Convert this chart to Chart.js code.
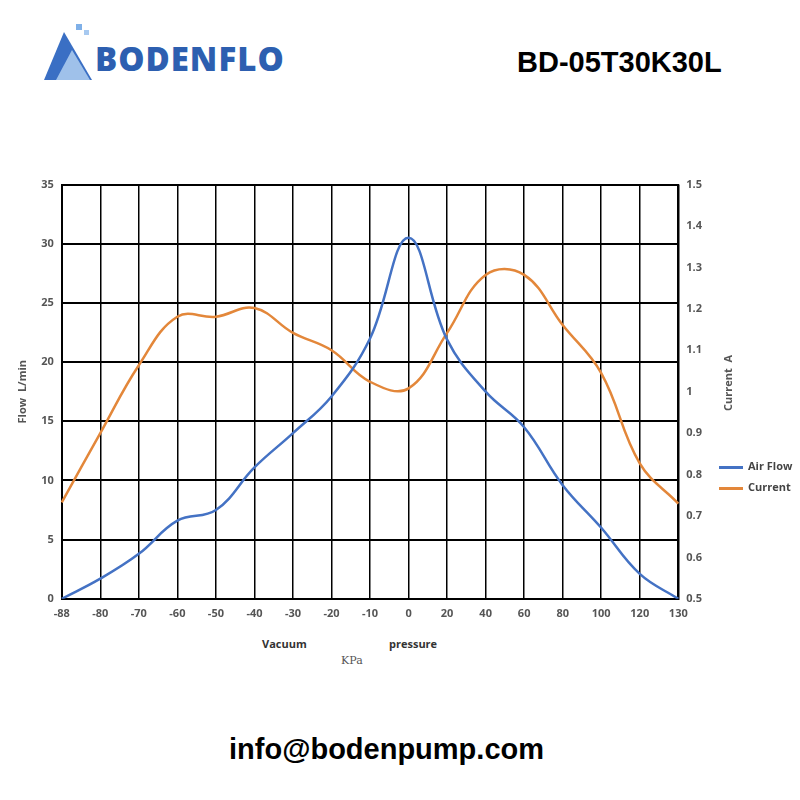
<!DOCTYPE html>
<html><head><meta charset="utf-8">
<script src="https://cdn.jsdelivr.net/npm/chart.js@4"></script>
<style>
body{margin:0;width:800px;height:800px;background:#fff;position:relative;font-family:"Open Sans",sans-serif;overflow:hidden}
#wrap{position:absolute;left:0;top:170px;width:800px;height:458px}
.t{position:absolute;white-space:nowrap}
</style></head><body>
<div class="t" style="left:36px;top:22px;width:56px;height:60px">
<svg width="60" height="62"><polygon points="8,58 28,10 56,58" fill="#3a6fc4"/><polygon points="20,58 36,28 54,58" fill="#9fc1ea"/><rect x="40" y="2" width="6" height="6" fill="#7fb0e8"/><rect x="48" y="8" width="5" height="5" fill="#a7c9f0"/></svg></div>
<div class="t" style="left:95px;top:36px;font-family:'Open Sans';font-weight:800;font-size:33px;color:#2d5fb0;letter-spacing:1px">BODENFLO</div>
<div class="t" style="left:517px;top:46px;font-family:'Liberation Sans',Arial;font-weight:bold;font-size:29px;color:#000">BD-05T30K30L</div>
<div id="wrap"><canvas id="c"></canvas></div>
<div class="t" style="left:712px;top:383px;transform:translate(-50%,-50%) rotate(-90deg);transform-origin:center;font-weight:bold;font-size:11px;color:#555;left:727px">Current&nbsp; A</div>
<div class="t" style="left:719px;top:458px;font-weight:bold;font-size:11px;color:#444"><span style="display:inline-block;width:24px;height:3px;background:#4472c4;vertical-align:middle;margin-right:5px"></span>Air Flow</div>
<div class="t" style="left:719px;top:479px;font-weight:bold;font-size:11px;color:#444"><span style="display:inline-block;width:24px;height:3px;background:#e3873a;vertical-align:middle;margin-right:5px"></span>Current</div>
<div class="t" style="left:262px;top:636px;font-weight:bold;font-size:11px;color:#333">Vacuum</div>
<div class="t" style="left:389px;top:636px;font-weight:bold;font-size:11px;color:#333">pressure</div>
<div class="t" style="left:341px;top:654px;font-family:'DejaVu Serif',serif;font-size:11px;color:#555">KPa</div>
<div class="t" style="left:229px;top:733px;font-family:'Liberation Sans',Arial;font-weight:bold;font-size:29px;color:#000">info@bodenpump.com</div>
<script>
const categories=["-88","-80","-70","-60","-50","-40","-30","-20","-10","0","20","40","60","80","100","120","130"];
const airFlow=[0,1.7,3.8,6.6,7.5,11.1,14.0,17.1,22.0,30.5,21.9,17.5,14.5,9.6,6.0,2.1,0];
const current=[0.733,0.90,1.064,1.181,1.181,1.202,1.142,1.10,1.024,1.008,1.142,1.282,1.282,1.161,1.045,0.827,0.73];
const flowTicks=[0,5,10,15,20,25,30,35];
const tickFont={family:"Open Sans",size:11,weight:"bold"};
new Chart(document.getElementById('c'),{
type:'line',
data:{labels:categories,datasets:[
{label:'Air Flow',data:airFlow,borderColor:'#4472c4',borderWidth:2.5,pointRadius:0,tension:0.4,yAxisID:'y'},
{label:'Current',data:current,borderColor:'#e3873a',borderWidth:2.5,pointRadius:0,tension:0.4,yAxisID:'y1'}]},
options:{responsive:true,maintainAspectRatio:false,animation:false,
layout:{padding:{left:12,right:90,top:8,bottom:0}},
plugins:{legend:{display:false},tooltip:{enabled:false}},
scales:{
x:{offset:false,grid:{color:'#000',lineWidth:1.5,drawTicks:false},border:{color:'#000',width:2},ticks:{color:'#555',font:tickFont,padding:8,maxRotation:0,autoSkip:false}},
y:{min:0,max:35,afterBuildTicks:a=>{a.ticks=flowTicks.map(v=>({value:v}))},grid:{color:'#000',lineWidth:2,drawTicks:false},border:{color:'#000',width:2},ticks:{color:'#555',font:tickFont,padding:8},title:{display:true,text:'Flow  L/min',color:'#555',font:tickFont}},
y1:{position:'right',min:0.5,max:1.5,grid:{display:false,drawTicks:false},border:{color:'#000',width:2},ticks:{stepSize:0.1,color:'#555',font:tickFont,padding:8,callback:v=>Math.round(v*10)/10}}
}}});
</script></body></html>
